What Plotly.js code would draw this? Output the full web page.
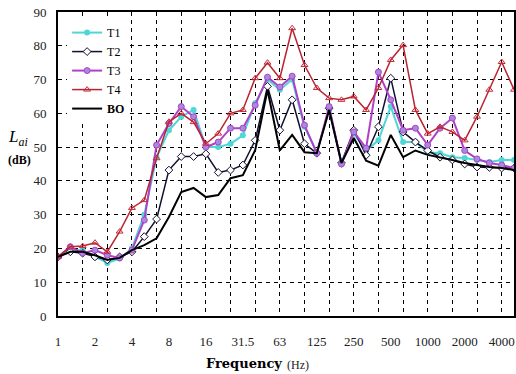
<!DOCTYPE html>
<html><head><meta charset="utf-8">
<script src="https://cdn.plot.ly/plotly-3.0.1.min.js"></script>
<style>body{margin:0;padding:0;background:#fff}#chart{width:516px;height:374px}</style>
</head><body><div id="chart"></div>
<script>
// 1/3-octave band centre frequencies (Hz)
var bands = ['1','1.25','1.6','2','2.5','3.15','4','5','6.3','8','10','12.5','16','20','25','31.5','40','50','63','80','100','125','160','200','250','315','400','500','630','800','1000','1250','1600','2000','2500','3150','4000','5000'];
var tickLabels = ['1','2','4','8','16','31.5','63','125','250','500','1000','2000','4000'];
var t1 = [17.5,19.5,19.5,17.5,15.7,17,20,30,47,55,59,61,50,50,51,53.5,63,70,67,70,56,48.5,61,45.5,54,49,52,62,51.5,51.5,48.5,48.2,47,46.8,46.2,45.6,46.2,46.2];
var t2 = [17.5,19,18.6,17.5,16.6,17.5,19,23.5,28.7,43.2,47.2,47.2,48,42.5,43.2,44.7,52,68,55,64,51,48.2,61.5,45.3,55,47.6,56,70.4,54.5,51.5,49,47,46.2,45,44.1,44,43.8,43.8];
var t3 = [17.5,20.5,18.6,19.5,18,17.2,19.5,28.4,50.6,57,62,59,50,51.5,55.6,55.6,62.4,70.7,67.8,71,56.5,48.2,62,45,54.5,49.7,72.2,64,55,55.6,50.6,55.6,58.6,49,46.5,45.3,44.7,43.8];
var t4 = [17.5,20.5,20.7,21.7,19,25,32,34.3,46.7,57.5,60,57.4,51,54,60,61,70.4,75,70.4,85.2,74.3,67.5,64.5,64,65,61,67.5,75.8,80.2,61,54,56,54.5,52,59,67,75.2,67];
var bo = [17.5,19,19,18,16.6,17.2,19.5,21,23,29.3,36.7,37.9,35.2,35.8,40.8,41.7,49.1,67,49,53.6,48.5,48.2,61,45.3,52.7,46,44.5,53.6,47,49,47.7,47,46.2,45.3,44.7,44.1,43.8,43.2];

var idx = bands.map(function(_, i){ return i; });
var tickVals = tickLabels.map(function(l){ return bands.indexOf(l); });
var gridVals = idx.filter(function(i){ return i > 0 && i % 2 === 0; });

var SERIF = 'Liberation Serif';
var TITLE = 'DejaVu Serif';

var traces = [
  {name:'T1', x: idx, y: t1, mode:'lines+markers', line:{color:'#4fd6d6', width:2},
   marker:{symbol:'circle', size:6, color:'#4fd6d6'}},
  {name:'T2', x: idx, y: t2, mode:'lines+markers', line:{color:'#101030', width:1.5},
   marker:{symbol:'diamond', size:6, color:'#ffffff', line:{color:'#101030', width:1}}},
  {name:'T3', x: idx, y: t3, mode:'lines+markers', line:{color:'#b040c8', width:2},
   marker:{symbol:'circle', size:6, color:'#a58ae0', line:{color:'#b040c8', width:1}}},
  {name:'T4', x: idx, y: t4, mode:'lines+markers', line:{color:'#b82430', width:1.5},
   marker:{symbol:'triangle-up-open', size:6, color:'#c82838', line:{width:1}}},
  {name:'<b>BO</b>', x: idx, y: bo, mode:'lines', line:{color:'#000000', width:2}}
];

var layout = {
  width:516, height:374,
  margin:{l:58, r:2, t:12, b:58},
  paper_bgcolor:'#fff', plot_bgcolor:'#fff',
  font:{family:SERIF, size:13, color:'#222'},
  showlegend:true,
  legend:{x:0.02, y:0.98, xanchor:'left', yanchor:'top', bgcolor:'#ffffff',
          font:{family:SERIF, size:12, color:'#000'}, tracegroupgap:0},
  xaxis:{range:[0, bands.length-1], tickmode:'array', tickvals:tickVals, ticktext:tickLabels,
         showgrid:false, zeroline:false, showline:true, mirror:true, linecolor:'#000', linewidth:2,
         ticks:'outside', ticklen:12, tickcolor:'rgba(0,0,0,0)',
         tickfont:{family:SERIF, size:13, color:'#222'},
         minor:{tickmode:'array', tickvals:gridVals, showgrid:true, gridcolor:'#000', gridwidth:1, griddash:'4px,4px', ticks:''}},
  yaxis:{range:[0,90], dtick:10, tick0:0, showgrid:true, gridcolor:'#000', gridwidth:1, griddash:'4px,4px',
         zeroline:false, showline:true, mirror:true, linecolor:'#000', linewidth:2,
         ticks:'outside', ticklen:7, tickcolor:'rgba(0,0,0,0)',
         tickfont:{family:SERIF, size:13, color:'#222'}},
  annotations:[
    {xref:'paper', yref:'paper', x:-0.088, y:0.585, showarrow:false, xanchor:'center', yanchor:'middle',
     text:'<i>L</i><sub><i>ai</i></sub>', font:{family:SERIF, size:17, color:'#000'}},
    {xref:'paper', yref:'paper', x:-0.085, y:0.512, showarrow:false, xanchor:'center', yanchor:'middle',
     text:'<b>(dB)</b>', font:{family:SERIF, size:12, color:'#000'}},
    {xref:'paper', yref:'paper', x:0.496, y:-0.155, showarrow:false, xanchor:'right', yanchor:'middle',
     text:'<b>Frequency</b>', font:{family:TITLE, size:13, color:'#000'}},
    {xref:'paper', yref:'paper', x:0.498, y:-0.162, showarrow:false, xanchor:'left', yanchor:'middle',
     text:'(Hz)', font:{family:SERIF, size:12, color:'#222'}}
  ]
};

Plotly.newPlot('chart', traces, layout, {displayModeBar:false, staticPlot:true});
</script>
</body></html>
